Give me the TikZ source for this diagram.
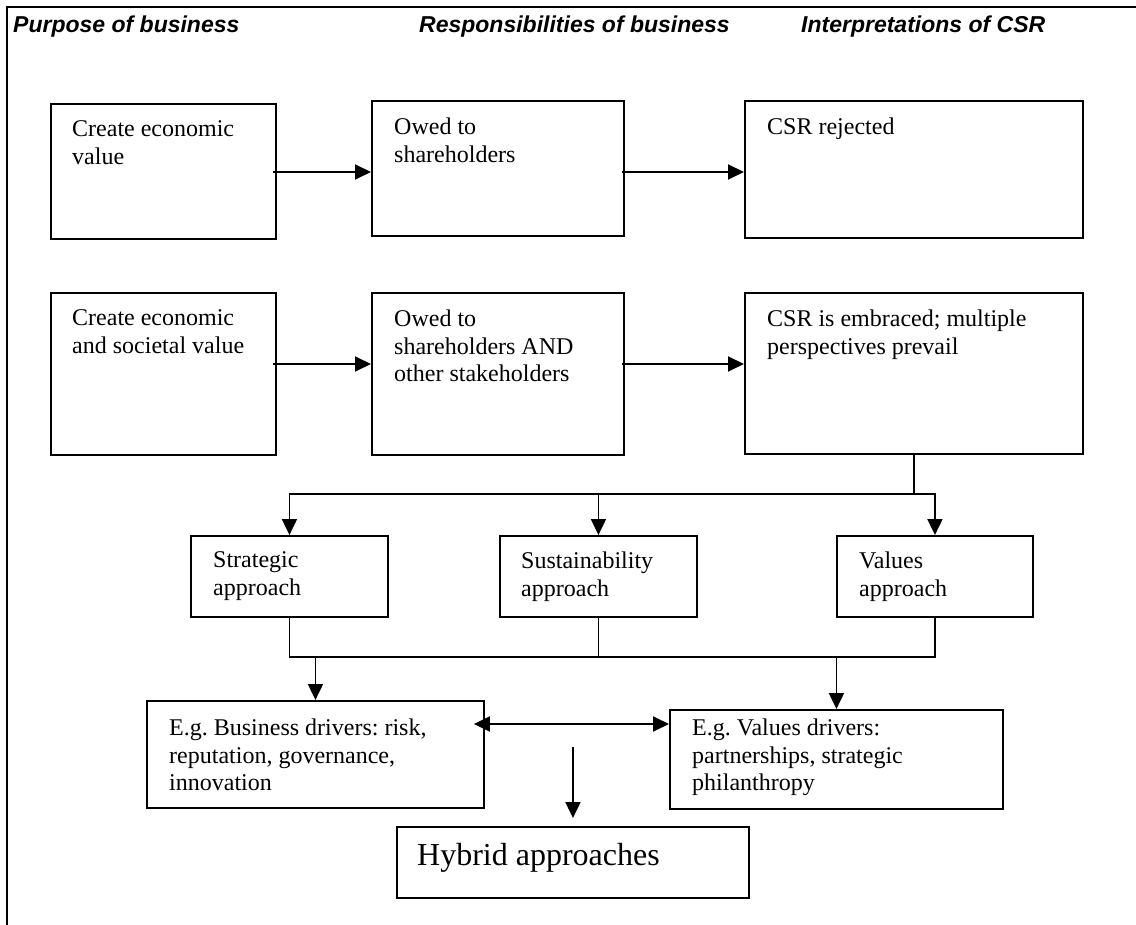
\documentclass[tikz,border=0pt]{standalone}
\usepackage{fontspec}
\setmainfont{Liberation Serif}
\newfontfamily\headfont{Liberation Sans}
\usetikzlibrary{arrows.meta,calc}

\begin{document}
\frenchspacing
\begin{tikzpicture}[x=1pt,y=-1pt,
  box/.style={draw, line width=1.9pt, inner sep=0pt, anchor=north west},
  txt/.style={anchor=north west, inner sep=0pt, align=left,
              font=\fontsize{24}{27.6}\selectfont},
  bigtxt/.style={anchor=north west, inner sep=0pt, align=left,
              font=\fontsize{32}{36}\selectfont},
  head/.style={anchor=base west, inner sep=0pt,
               font=\headfont\bfseries\itshape\fontsize{23}{27}\selectfont},
  ln/.style={line width=1.9pt},
  arr/.style={ln, -{Triangle[length=16pt,width=15pt]}},
  arrboth/.style={ln, {Triangle[length=16pt,width=15pt]}-{Triangle[length=16pt,width=15pt]}}]

\useasboundingbox (0,0) rectangle (1136,925);

% frame (top and left rules)
\draw[line width=2.4pt] (7,925) -- (7,7) -- (1136,7);

% column headings
\node[head] (h1) at (13,33)  {Purpose of business};
\node[head] (h2) at (419,33) {Responsibilities of business};
\node[head] (h3) at (801,33) {Interpretations of CSR};

% first row
\node[box, minimum width=225pt, minimum height=135pt] (b1) at (50,103)  {};
\node[box, minimum width=252pt, minimum height=135pt] (b2) at (371,100) {};
\node[box, minimum width=338pt, minimum height=137pt] (b3) at (744,100) {};
\node[txt] (t1) at ($(b1.north west)+(22,17.6)$) {Create economic\\value};
\node[txt] (t2) at ($(b2.north west)+(23,17.6)$) {Owed to\\shareholders};
\node[txt] (t3) at ($(b3.north west)+(23,17.6)$) {CSR rejected};

% second row
\node[box, minimum width=225pt, minimum height=162pt] (b4) at (50,292)  {};
\node[box, minimum width=252pt, minimum height=162pt] (b5) at (371,292) {};
\node[box, minimum width=338pt, minimum height=161pt] (b6) at (744,292) {};
\node[txt] (t4) at ($(b4.north west)+(22,17.6)$) {Create economic\\and societal value};
\node[txt] (t5) at ($(b5.north west)+(23,17.6)$) {Owed to\\shareholders AND\\other stakeholders};
\node[txt] (t6) at ($(b6.north west)+(23,17.6)$) {CSR is embraced; multiple\\perspectives prevail};

% approaches
\node[box, minimum width=197pt, minimum height=81pt] (sa) at (190,535) {};
\node[box, minimum width=197pt, minimum height=81pt] (su) at (499,535) {};
\node[box, minimum width=196pt, minimum height=81pt] (va) at (836,535) {};
\node[txt] (tsa) at ($(sa.north west)+(23,16.6)$) {Strategic\\approach};
\node[txt] (tsu) at ($(su.north west)+(22,16.6)$) {Sustainability\\approach};
\node[txt] (tva) at ($(va.north west)+(23,16.6)$) {Values\\approach};

% drivers
\node[box, minimum width=337pt, minimum height=107pt] (eb) at (146,700) {};
\node[box, minimum width=333pt, minimum height=99pt]  (ev) at (669,709) {};
\node[txt] (teb) at ($(eb.north west)+(23,18.6)$) {E.g. Business drivers: risk,\\reputation, governance,\\innovation};
\node[txt] (tev) at ($(ev.north west)+(23,9.6)$) {E.g. Values drivers:\\partnerships, strategic\\philanthropy};

% hybrid
\node[box, minimum width=352pt, minimum height=71pt] (hy) at (396,826) {};
\node[bigtxt] (thy) at ($(hy.north west)+(21,17.1)$) {Hybrid approaches};

% row connectors
\coordinate (r1) at (0,172);
\coordinate (r2) at (0,364);
\draw[arr] ($(b1.east |- r1)+(-4,0)$) -- (b2.west |- r1);
\draw[arr] ($(b2.east |- r1)+(-3,0)$) -- (b3.west |- r1);
\draw[arr] ($(b4.east |- r2)+(-4,0)$) -- (b5.west |- r2);
\draw[arr] ($(b5.east |- r2)+(-3,0)$) -- (b6.west |- r2);

% branching to the three approaches
\coordinate (r4) at (0,494);
\draw[arr] (b6.south) -- (b6.south |- r4) -| (va.north);
\draw[arr] (b6.south |- r4) -| (sa.north);
\draw[arr] (su.north |- r4) -- (su.north);

% merging into the drivers
\coordinate (r5) at (0,657);
\draw[ln] (sa.south) -- (sa.south |- r5) -- (va.south |- r5) -- (va.south);
\draw[ln] (su.south) -- (su.south |- r5);
\draw[arr] (eb.north |- r5) -- (eb.north);
\draw[arr] (ev.north |- r5) -- (ev.north);

% link between the drivers
\coordinate (r6) at (0,724);
\draw[arrboth] ($(eb.east |- r6)+(-11,0)$) -- (ev.west |- r6);

% down to hybrid approaches
\coordinate (hs) at ($(hy.north)+(0,-79)$);
\draw[arr] (hs) -- ($(hy.north)+(0,-8)$);

\end{tikzpicture}
\end{document}
